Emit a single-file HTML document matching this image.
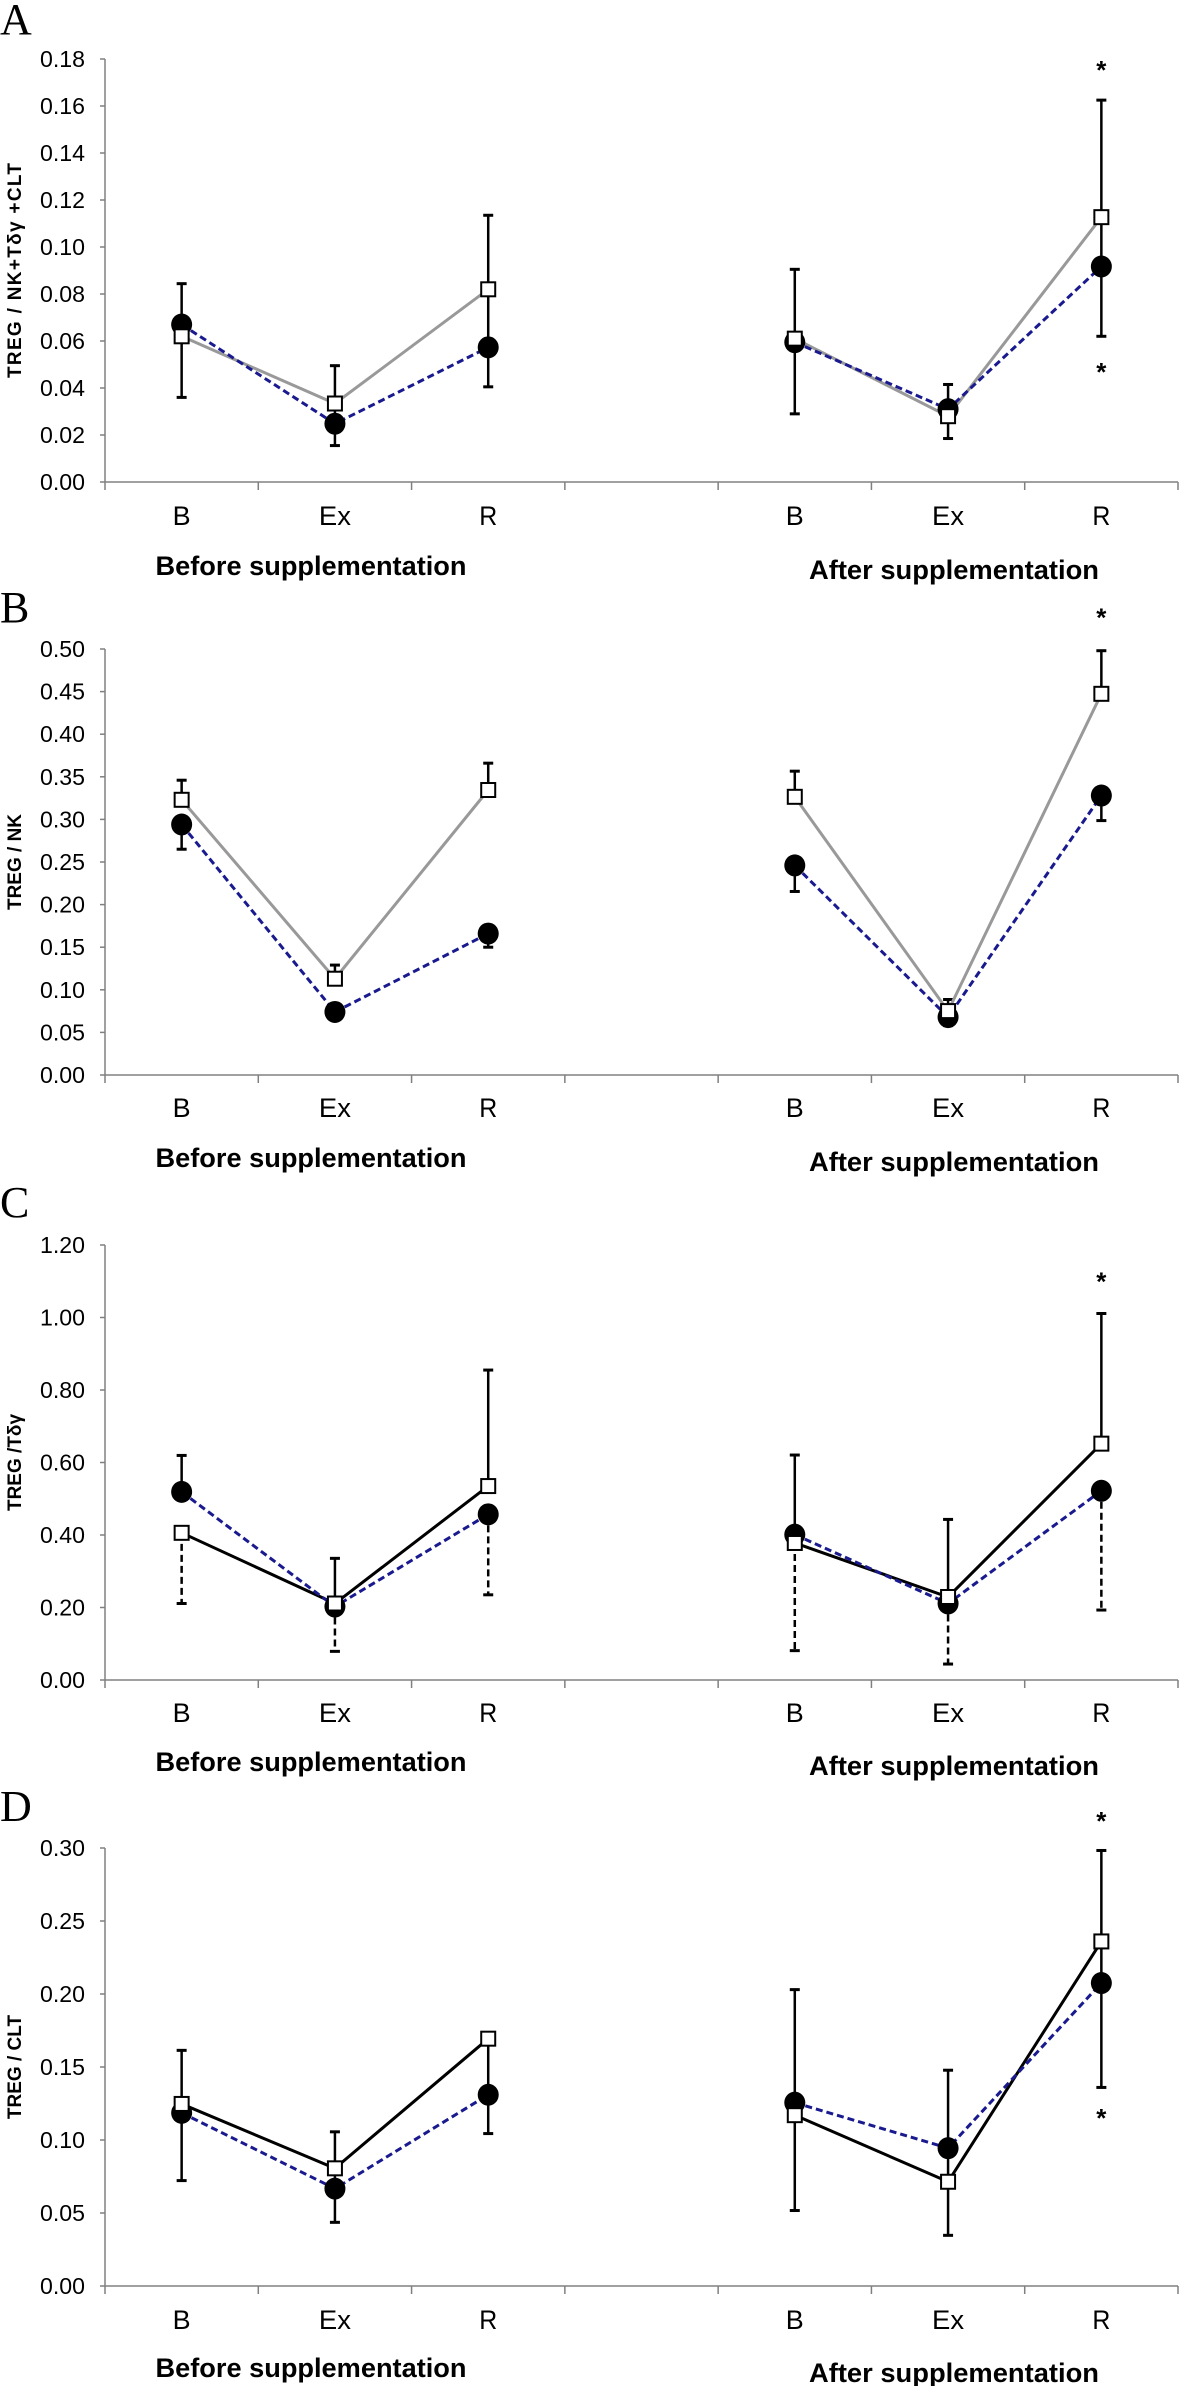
<!DOCTYPE html>
<html><head><meta charset="utf-8"><style>
html,body{margin:0;padding:0;background:#fff;}
svg{display:block;}
</style></head><body>
<svg id="fig" width="1181" height="2386" viewBox="0 0 1181 2386" xmlns="http://www.w3.org/2000/svg"></svg>
<script>
// ---- data ----
const categories = ["B","Ex","R","","B","Ex","R"];
// Panel A: TREG / NK+Tδγ +CLT
const aSquares = [0.062,0.0334,0.082,null,0.061,0.028,0.1127];
const aCircles = [0.067,0.0248,0.0573,null,0.0595,0.031,0.0917];
const aErrTop  = [0.0844,0.0495,0.1135,null,0.0905,0.0415,0.1625];
const aErrBot  = [0.036,0.0155,0.0405,null,0.029,0.0185,0.062];
const aStars   = [[6,0.1775],[6,0.049]];
const aTicks   = ["0.00","0.02","0.04","0.06","0.08","0.10","0.12","0.14","0.16","0.18"];
// Panel B: TREG / NK
const bSquares = [0.323,0.113,0.3345,null,0.3265,0.075,0.4474];
const bCircles = [0.294,0.074,0.166,null,0.246,0.068,0.328];
const bErrTop  = [0.346,0.129,0.366,null,0.3566,0.0886,0.498];
const bErrBot  = [0.265,0.074,0.150,null,0.2154,0.058,0.2986];
const bStars   = [[6,0.543]];
const bTicks   = ["0.00","0.05","0.10","0.15","0.20","0.25","0.30","0.35","0.40","0.45","0.50"];
// Panel C: TREG / Tδγ
const cSquares = [0.406,0.211,0.535,null,0.378,0.229,0.652];
const cCircles = [0.519,0.2026,0.457,null,0.401,0.211,0.522];
const cErrTop  = [0.6195,0.3356,0.855,null,0.6206,0.443,1.011];
const cErrBot  = [0.211,0.079,0.235,null,0.081,0.044,0.193];
const cStars   = [[6,1.113]];
const cTicks   = ["0.00","0.20","0.40","0.60","0.80","1.00","1.20"];
// Panel D: TREG / CLT
const dSquares = [0.1247,0.0806,0.1694,null,0.117,0.0714,0.236];
const dCircles = [0.1186,0.0667,0.131,null,0.1256,0.0944,0.2075];
const dErrTop  = [0.1614,0.1056,0.1694,null,0.203,0.1478,0.2983];
const dErrBot  = [0.0722,0.0436,0.1044,null,0.0517,0.0347,0.136];
const dStars   = [[6,0.322],[6,0.1186]];
const dTicks   = ["0.00","0.05","0.10","0.15","0.20","0.25","0.30"];

const NS="http://www.w3.org/2000/svg";
const svg=document.getElementById('fig');
function mk(tag,attrs,parent,txt){const e=document.createElementNS(NS,tag);for(const k in attrs)e.setAttribute(k,attrs[k]);if(txt!==undefined)e.textContent=txt;(parent||svg).appendChild(e);return e;}

const X0=105,X1=1178;
function xs(i){return X0+(X1-X0)/categories.length*(i+0.5);}

const panels=[
 {letter:'A',letterY:34,top:59,bot:482,max:0.18,ticks:aTicks,sq:aSquares,ci:aCircles,et:aErrTop,eb:aErrBot,stars:aStars,title:"TREG / NK+Tδγ +CLT",titleLen:215,catY:525,befY:575,aftY:579,sqColor:'#999999',errMode:'full'},
 {letter:'B',letterY:622,top:649,bot:1075,max:0.5,ticks:bTicks,sq:bSquares,ci:bCircles,et:bErrTop,eb:bErrBot,stars:bStars,title:"TREG / NK",titleLen:0,catY:1117,befY:1167,aftY:1171,sqColor:'#999999',errMode:'split-solid'},
 {letter:'C',letterY:1217,top:1245,bot:1680,max:1.2,ticks:cTicks,sq:cSquares,ci:cCircles,et:cErrTop,eb:cErrBot,stars:cStars,title:"TREG /Tδγ",titleLen:0,catY:1722,befY:1771,aftY:1775,sqColor:'#000000',errMode:'split-dashed'},
 {letter:'D',letterY:1821,top:1848,bot:2286,max:0.3,ticks:dTicks,sq:dSquares,ci:dCircles,et:dErrTop,eb:dErrBot,stars:dStars,title:"TREG / CLT",titleLen:0,catY:2329,befY:2377,aftY:2382,sqColor:'#000000',errMode:'full'}
];

panels.forEach(p=>{
  const g=mk('g',{});
  
  
  const ys=v=>p.bot-(p.bot-p.top)*v/p.max;
  const lt=mk('text',{x:0,y:p.letterY,'font-family':'Liberation Serif, serif','font-size':44,fill:'#000'},g,p.letter);
  
  
  const ya=mk('line',{x1:X0,y1:p.top,x2:X0,y2:p.bot,stroke:'#808080','stroke-width':1.5},g);
  
  
  const n=p.ticks.length-1;
  p.ticks.forEach((t,i)=>{
    const v=p.max*i/n, y=ys(v);
    mk('line',{x1:X0-5,y1:y,x2:X0,y2:y,stroke:'#808080','stroke-width':1.5},g);
    const tl=mk('text',{x:85,y:y+8,'text-anchor':'end','font-family':'Liberation Sans, sans-serif','font-size':23,textLength:45,lengthAdjust:'spacingAndGlyphs',fill:'#000'},g,t);
    
    
  });
  const xa=mk('line',{x1:X0,y1:p.bot,x2:X1,y2:p.bot,stroke:'#808080','stroke-width':1.5},g);
  
  
  for(let i=0;i<=categories.length;i++){
    const x=X0+(X1-X0)/categories.length*i;
    mk('line',{x1:x,y1:p.bot,x2:x,y2:p.bot+8,stroke:'#808080','stroke-width':1.5},g);
  }
  categories.forEach((c,i)=>{
    if(!c)return;
    const cl=mk('text',{x:xs(i),y:p.catY,'text-anchor':'middle','font-family':'Liberation Sans, sans-serif','font-size':27,textLength:c==='Ex'?32:18,lengthAdjust:'spacingAndGlyphs',fill:'#000'},g,c);
    
    
  });
  const bl=mk('text',{x:311,y:p.befY,'text-anchor':'middle','font-family':'Liberation Sans, sans-serif','font-weight':'bold','font-size':27,textLength:311,lengthAdjust:'spacingAndGlyphs',fill:'#000'},g,'Before supplementation');
  
  
  const al=mk('text',{x:954,y:p.aftY,'text-anchor':'middle','font-family':'Liberation Sans, sans-serif','font-weight':'bold','font-size':27,textLength:290,lengthAdjust:'spacingAndGlyphs',fill:'#000'},g,'After supplementation');
  
  
  const cy=(p.top+p.bot)/2;
  const ta={x:0,y:0,transform:`translate(21 ${cy}) rotate(-90)`,'text-anchor':'middle','font-family':'Liberation Sans, sans-serif','font-weight':'bold','font-size':19,fill:'#000'};
  if(p.titleLen)ta.textLength=p.titleLen;
  const yt=mk('text',ta,g,p.title);
  
  
  // error bars
  p.et.forEach((t,i)=>{
    if(t==null)return;
    const x=xs(i), yt2=ys(t), yb=ys(p.eb[i]);
    if(p.errMode==='split-dashed'){
      const hi=Math.max(p.sq[i],p.ci[i]);const lo=Math.min(p.sq[i],p.ci[i]);
      const e1=mk('line',{x1:x,y1:yt2,x2:x,y2:ys(hi),stroke:'#000','stroke-width':2.5},g);
      
      
      const e2=mk('line',{x1:x,y1:ys(lo),x2:x,y2:yb,stroke:'#000','stroke-width':2.5,'stroke-dasharray':'7 4'},g);
      
      
    } else if(p.errMode==='split-solid'){
      const e1=mk('line',{x1:x,y1:yt2,x2:x,y2:ys(p.sq[i]),stroke:'#000','stroke-width':2.5},g);
      
      
      const e2=mk('line',{x1:x,y1:ys(p.ci[i]),x2:x,y2:yb,stroke:'#000','stroke-width':2.5},g);
      
      
    } else {
      const e=mk('line',{x1:x,y1:yt2,x2:x,y2:yb,stroke:'#000','stroke-width':2.5},g);
      
      
    }
    mk('line',{x1:x-5,y1:yt2,x2:x+5,y2:yt2,stroke:'#000','stroke-width':3},g);
    mk('line',{x1:x-5,y1:yb,x2:x+5,y2:yb,stroke:'#000','stroke-width':3},g);
  });
  function poly(arr){const segs=[];let cur=[];arr.forEach((v,i)=>{if(v==null){if(cur.length)segs.push(cur);cur=[];}else cur.push(xs(i)+','+ys(v));});if(cur.length)segs.push(cur);return segs;}
  poly(p.sq).forEach(s=>{const l=mk('polyline',{points:s.join(' '),fill:'none',stroke:p.sqColor,'stroke-width':3},g);
    
    });
  poly(p.ci).forEach(s=>{const l=mk('polyline',{points:s.join(' '),fill:'none',stroke:'#1a1a8f','stroke-width':3,'stroke-dasharray':'7 4'},g);
    
    });
  p.ci.forEach((v,i)=>{if(v==null)return;const c=mk('ellipse',{cx:xs(i),cy:ys(v),rx:10.5,ry:11,fill:'#000'},g);
    
    });
  p.sq.forEach((v,i)=>{if(v==null)return;const r=mk('rect',{x:xs(i)-7,y:ys(v)-7,width:14,height:14,fill:'#fff',stroke:'#000','stroke-width':2},g);
    
    });
  p.stars.forEach(s=>{const st=mk('text',{x:xs(s[0]),y:ys(s[1])+14,'text-anchor':'middle','font-family':'Liberation Sans, sans-serif','font-weight':'bold','font-size':26,fill:'#000'},g,'*');
    
    });
});
</script>
</body></html>
